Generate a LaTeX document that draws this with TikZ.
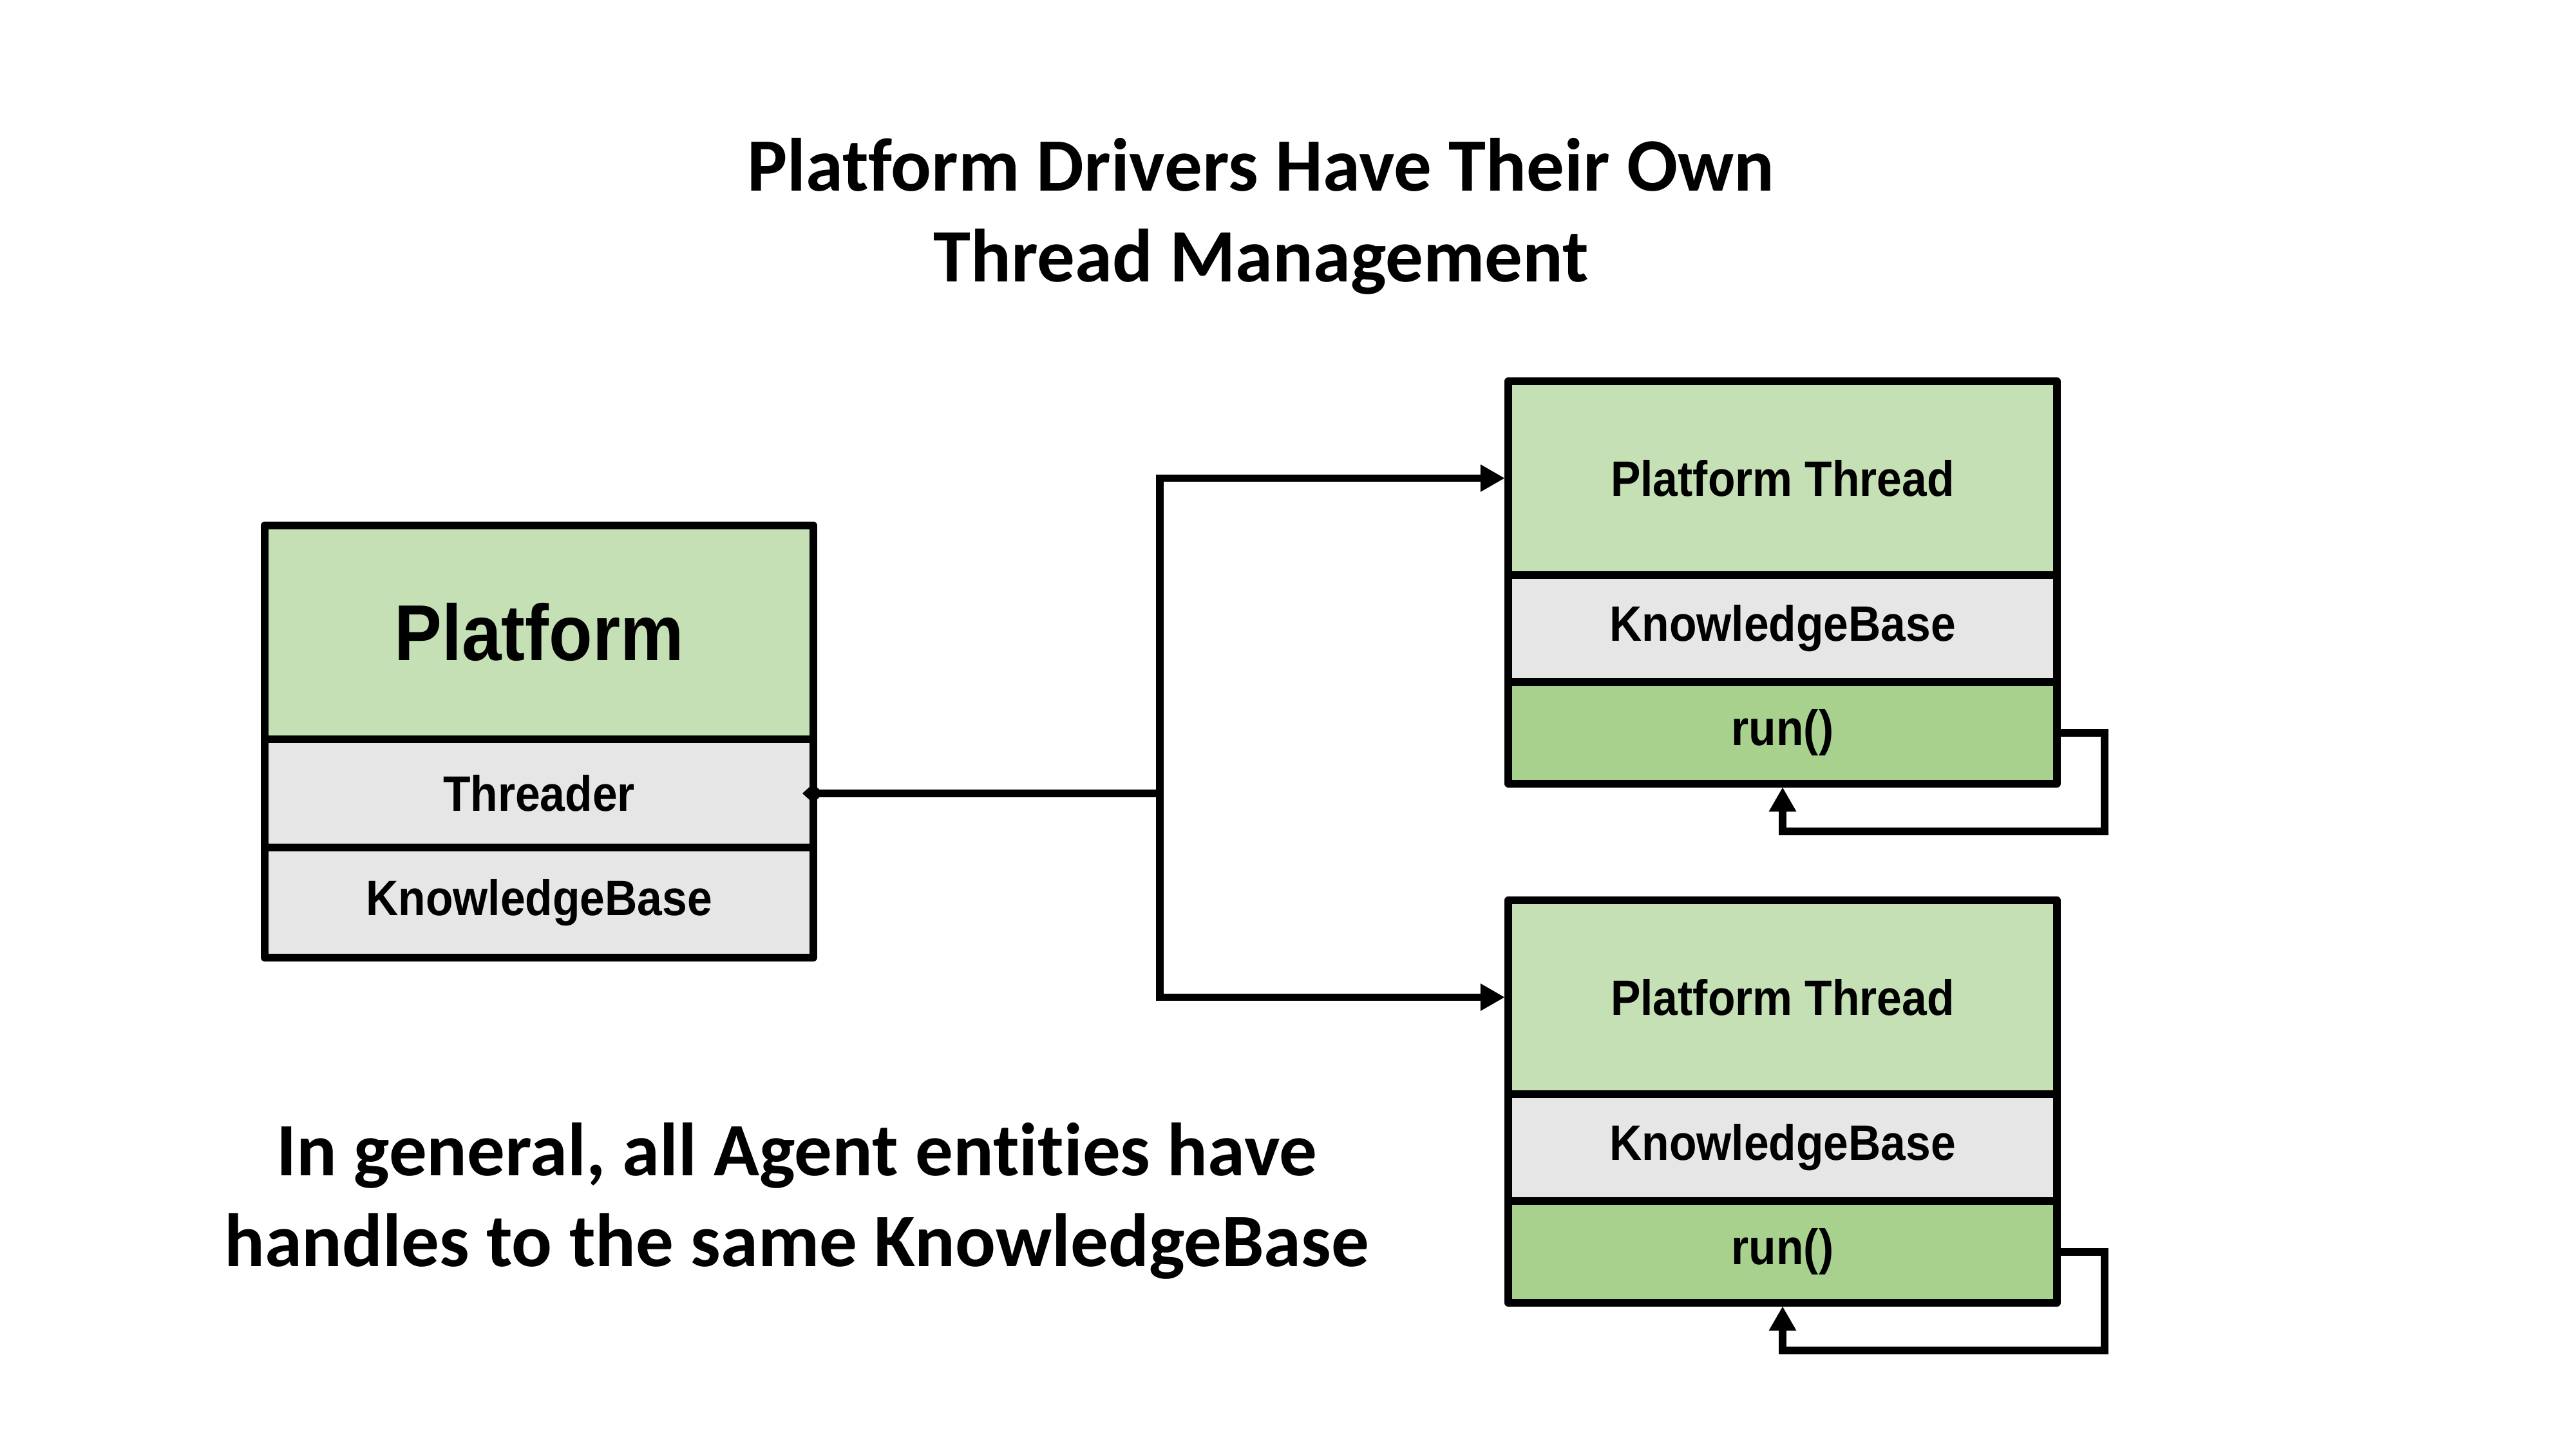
\documentclass[tikz,border=0pt]{standalone}
\usepackage{fontspec}
\usepackage{xcolor}
\usepackage{tikz}
\usetikzlibrary{arrows.meta,positioning}
\newfontfamily\titlefont{Carlito}[Ligatures=NoCommon]
\newfontfamily\boxfont{Liberation Sans}[FakeStretch=0.9]
\definecolor{hdrgreen}{HTML}{C5E0B4}
\definecolor{rungreen}{HTML}{A9D18E}
\definecolor{kbgray}{HTML}{E7E6E6}
\tikzset{
  cell/.style={draw,line width=3.3pt,line join=round,outer sep=0pt,minimum width=8.52cm,
    font=\boxfont\bfseries\fontsize{22}{26}\selectfont},
  hdr/.style={cell,fill=hdrgreen},
  kb/.style={cell,fill=kbgray},
  runcell/.style={cell,fill=rungreen},
  conn/.style={line width=3.3pt},
  big/.style={font=\titlefont\bfseries\fontsize{33.3}{40}\selectfont,align=center}
}

\begin{document}
\begin{tikzpicture}[>={Triangle[width=0.4cm,length=0.38cm]}]
\fill[white](0,0) rectangle (40,-22.5);
\node[big] (title) at (19.58,-3.36) {Platform Drivers Have Their Own\\Thread Management};
\node[big] (note) at (12.37,-18.65) {In general, all Agent entities have\\handles to the same KnowledgeBase};

\node[hdr,anchor=north west,minimum height=3.32cm,font=\boxfont\bfseries\fontsize{35}{40}\selectfont] (plat) at (4.11,-8.16) {Platform};
\node[kb,minimum height=1.68cm,below=0pt of plat] (threader) {Threader};
\node[kb,minimum height=1.71cm,below=0pt of threader] (platkb) {KnowledgeBase};

\node[hdr,anchor=north west,minimum height=3.01cm] (thdA) at (23.42,-5.92) {Platform Thread};
\node[kb,minimum height=1.66cm,below=0pt of thdA] (kbA) {KnowledgeBase};
\node[runcell,minimum height=1.58cm,below=0pt of kbA] (runA) {run()};

\node[hdr,anchor=north west,minimum height=3.01cm] (thdB) at (23.42,-13.98) {Platform Thread};
\node[kb,minimum height=1.66cm,below=0pt of thdB] (kbB) {KnowledgeBase};
\node[runcell,minimum height=1.58cm,below=0pt of kbB] (runB) {run()};

\coordinate (split) at ([xshift=5.38cm]threader.east);
\draw[conn,{Diamond[width=0.3cm,length=0.33cm]}-]([xshift=-0.17cm]threader.east)--(split);
\draw[conn,->,shorten >=1.5pt](split)|-(thdA.west);
\draw[conn,->,shorten >=1.5pt](split)|-(thdB.west);
\draw[conn,->,shorten >=1.5pt](runA.east)-|([xshift=0.74cm,yshift=-0.74cm]runA.south east)-|(runA.south);
\draw[conn,->,shorten >=1.5pt](runB.east)-|([xshift=0.74cm,yshift=-0.74cm]runB.south east)-|(runB.south);
\end{tikzpicture}
\end{document}
